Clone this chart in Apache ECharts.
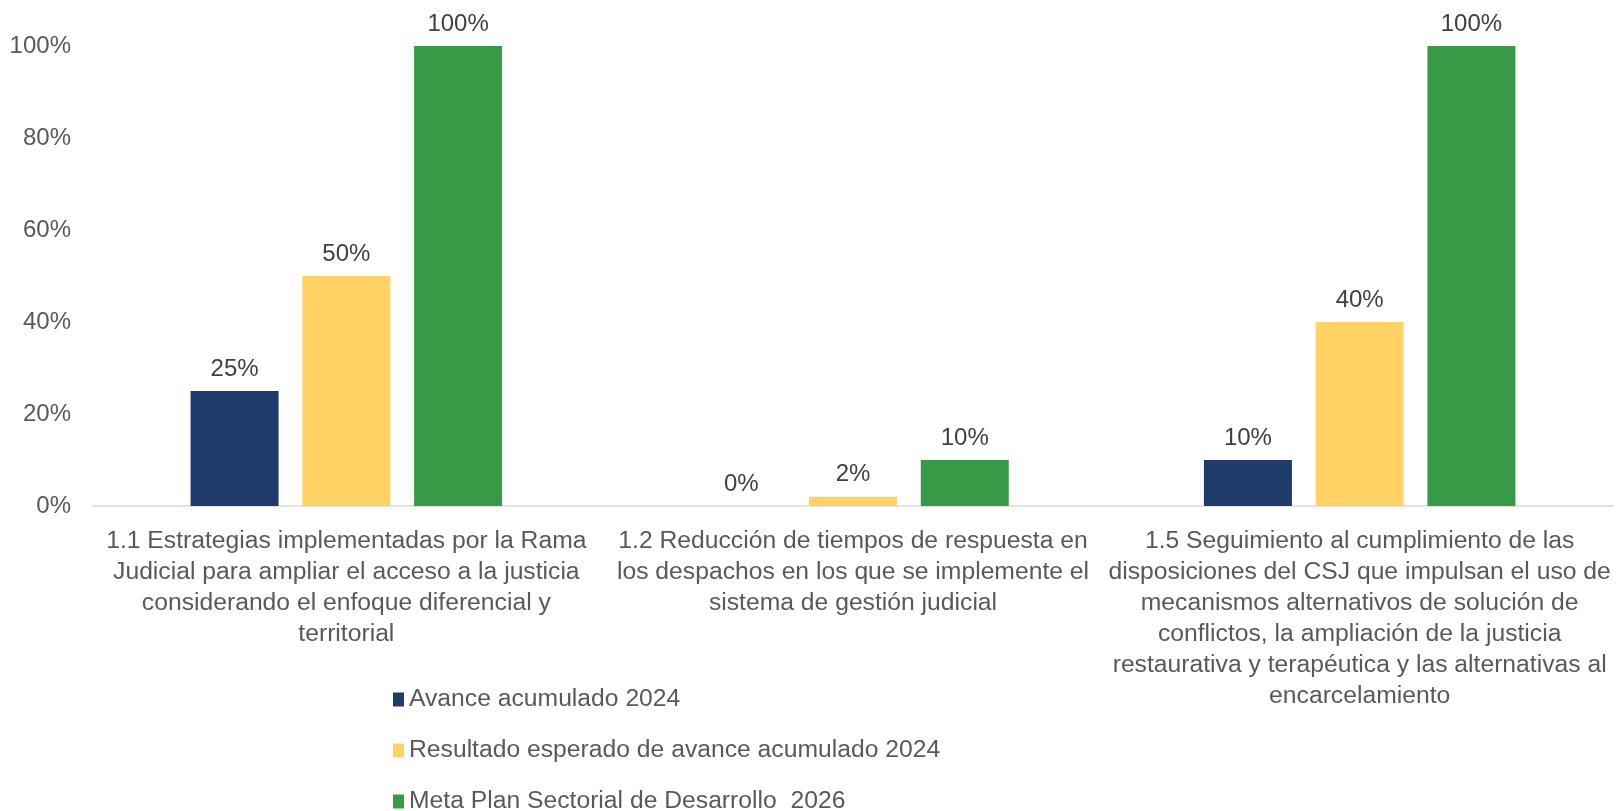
<!DOCTYPE html>
<html>
<head>
<meta charset="utf-8">
<script src="https://cdn.jsdelivr.net/npm/echarts@6/dist/echarts.min.js"></script>
<style>
  html, body { margin: 0; padding: 0; background: #fff; }
  #main { width: 1616px; height: 811px; }
</style>
</head>
<body>
<div id="main"></div>
<script>
var categories = [
    '1.1 Estrategias implementadas por la Rama\nJudicial para ampliar el acceso a la justicia\nconsiderando el enfoque diferencial y\nterritorial',
    '1.2 Reducción de tiempos de respuesta en\nlos despachos en los que se implemente el\nsistema de gestión judicial',
    '1.5 Seguimiento al cumplimiento de las\ndisposiciones del CSJ que impulsan el uso de\nmecanismos alternativos de solución de\nconflictos, la ampliación de la justicia\nrestaurativa y terapéutica y las alternativas al\nencarcelamiento'
];
var seriesNames = [
    'Avance acumulado 2024',
    'Resultado esperado de avance acumulado 2024',
    'Meta Plan Sectorial de Desarrollo  2026'
];
var avance2024 = [25, 0, 10];
var esperado2024 = [50, 2, 40];
var meta2026 = [100, 10, 100];

var font = 'Liberation Sans, Arial, sans-serif';
var myChart = echarts.init(document.getElementById('main'));

function barSeries(name, data) {
    return {
        name: name,
        type: 'bar',
        data: data,
        barWidth: 88,
        barGap: '27%',
        label: {
            show: true,
            position: 'top',
            distance: 10,
            formatter: '{c}%',
            color: '#404040',
            fontSize: 24,
            fontFamily: font
        }
    };
}

var option = {
    animation: false,
    color: ['#1F3B6B', '#FED265', '#389A46'],
    grid: { left: 93, right: 3, top: 46, bottom: 305, containLabel: false },
    legend: {
        orient: 'vertical',
        left: 388,
        top: 682,
        height: 200,
        itemWidth: 11,
        itemHeight: 14,
        itemGap: 26,
        icon: 'rect',
        textStyle: { color: '#595959', fontSize: 24.7, fontFamily: font },
        data: seriesNames
    },
    xAxis: {
        type: 'category',
        data: categories,
        axisLine: { lineStyle: { color: '#d9d9d9', width: 1.5 } },
        axisTick: { show: false },
        axisLabel: {
            interval: 0,
            color: '#595959',
            fontSize: 24.7,
            lineHeight: 31,
            fontFamily: font,
            margin: 20
        }
    },
    yAxis: {
        type: 'value',
        min: 0,
        max: 100,
        interval: 20,
        splitLine: { show: false },
        axisLine: { show: false },
        axisLabel: {
            formatter: '{value}%',
            color: '#595959',
            fontSize: 24,
            fontFamily: font,
            margin: 22
        }
    },
    series: [
        barSeries(seriesNames[0], avance2024),
        barSeries(seriesNames[1], esperado2024),
        barSeries(seriesNames[2], meta2026)
    ]
};
myChart.setOption(option);
</script>
</body>
</html>
